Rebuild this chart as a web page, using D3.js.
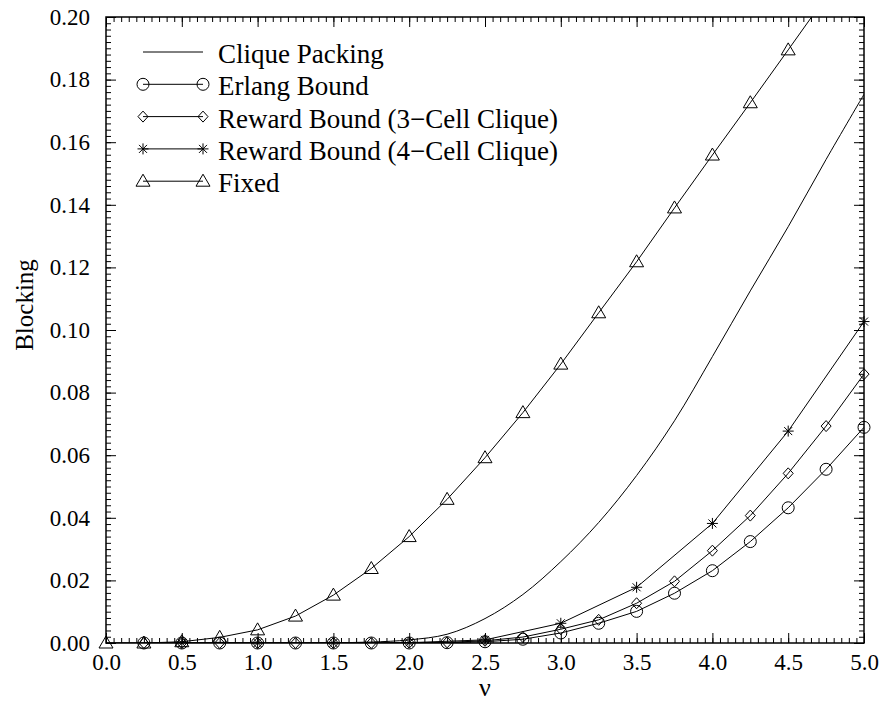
<!DOCTYPE html>
<html>
<head>
<meta charset="utf-8">
<script src="https://cdn.jsdelivr.net/npm/d3@7"></script>
<style>
  body { margin: 0; background: #fff; }
  text { font-family: "Liberation Serif", "Times New Roman", serif; fill: #000; }
</style>
</head>
<body>
<div id="root"></div>
<script>
// nu values, every 0.25 from 0 to 5
var nu = [0, 0.25, 0.5, 0.75, 1.0, 1.25, 1.5, 1.75, 2.0, 2.25, 2.5,
    2.75, 3.0, 3.25, 3.5, 3.75, 4.0, 4.25, 4.5, 4.75, 5.0];
var nuHalf = [0.5, 1.0, 1.5, 2.0, 2.5, 3.0, 3.5, 4.0, 4.5, 5.0];

var cliquePacking = [0, 0, 0, 0, 0, 0, 0.0001, 0.0003, 0.001, 0.0028, 0.0078,
    0.0155, 0.026, 0.0385, 0.0535, 0.071, 0.0915, 0.1125, 0.133, 0.1545, 0.1753];
var erlangBound = [null, 0, 0, 0, 0, 0, 0, 0, 0, 0.0001, 0.0004,
    0.0012, 0.0032, 0.0063, 0.0101, 0.0159, 0.0231, 0.0324, 0.0432, 0.0555, 0.0689];
var reward3 = [null, 0, 0, 0, 0, 0, 0, 0, 0.0001, 0.0002, 0.0007,
    0.0019, 0.0044, 0.0074, 0.0127, 0.0197, 0.0295, 0.0407, 0.0542, 0.0693, 0.0859];
var reward4 = [0, 0, 0, 0.0001, 0.001, 0.0063, 0.0178, 0.0382, 0.0677, 0.1027];
var fixed = [0, 0, 0.0004, 0.0018, 0.0042, 0.0086, 0.0153, 0.0238, 0.034, 0.0459, 0.0592,
    0.0736, 0.0891, 0.1055, 0.1218, 0.139, 0.1559, 0.1726, 0.1895, 0.2065, 0.224];

var legendNames = ["Clique Packing", "Erlang Bound", "Reward Bound (3\u2212Cell Clique)",
    "Reward Bound (4\u2212Cell Clique)", "Fixed"];
var legendSymbols = ["none", "circle", "diamond", "star", "triangle"];

var xTicks = [0, 0.5, 1, 1.5, 2, 2.5, 3, 3.5, 4, 4.5, 5];
var yTicks = [0, 0.02, 0.04, 0.06, 0.08, 0.10, 0.12, 0.14, 0.16, 0.18, 0.20];

var W = 881, H = 701;
var mLeft = 106, mRight = 864, mTop = 17, mBottom = 643;

var svg = d3.select("#root")
    .append("svg")
    .attr("width", W)
    .attr("height", H);

var x = d3.scaleLinear().domain([0, 5]).range([mLeft, mRight]);
var y = d3.scaleLinear().domain([0, 0.2]).range([mBottom, mTop]);

var xMinor = d3.range(0, 5.0001, 0.05).map(function (d) { return +d.toFixed(2); });
var yMinor = d3.range(0, 0.2001, 0.002).map(function (d) { return +d.toFixed(3); });

// minor ticks on all four sides (pointing inward)
svg.append("g").attr("transform", "translate(0," + mBottom + ")")
    .call(d3.axisBottom(x).tickValues(xMinor).tickSize(-5).tickFormat(""));
svg.append("g").attr("transform", "translate(0," + mTop + ")")
    .call(d3.axisTop(x).tickValues(xMinor).tickSize(-5).tickFormat(""));
svg.append("g").attr("transform", "translate(" + mLeft + ",0)")
    .call(d3.axisLeft(y).tickValues(yMinor).tickSize(-5).tickFormat(""));
svg.append("g").attr("transform", "translate(" + mRight + ",0)")
    .call(d3.axisRight(y).tickValues(yMinor).tickSize(-5).tickFormat(""));

// major ticks + labels
svg.append("g").attr("class", "xaxis").attr("transform", "translate(0," + mBottom + ")")
    .call(d3.axisBottom(x).tickValues(xTicks).tickSize(-10).tickPadding(11).tickFormat(d3.format(".1f")));
svg.append("g").attr("transform", "translate(0," + mTop + ")")
    .call(d3.axisTop(x).tickValues(xTicks).tickSize(-10).tickFormat(""));
svg.append("g").attr("class", "yaxis").attr("transform", "translate(" + mLeft + ",0)")
    .call(d3.axisLeft(y).tickValues(yTicks).tickSize(-10).tickPadding(16).tickFormat(d3.format(".2f")));
svg.append("g").attr("transform", "translate(" + mRight + ",0)")
    .call(d3.axisRight(y).tickValues(yTicks).tickSize(-10).tickFormat(""));

svg.selectAll(".domain").remove();
svg.selectAll(".tick line").attr("stroke", "#000").attr("stroke-width", 1);
svg.selectAll(".xaxis text, .yaxis text")
    .style("font-family", "'Liberation Serif', 'Times New Roman', serif")
    .style("font-size", "23px")
    .attr("fill", "#000");

// frame
svg.append("rect")
    .attr("x", mLeft).attr("y", mTop)
    .attr("width", mRight - mLeft).attr("height", mBottom - mTop)
    .attr("fill", "none").attr("stroke", "#000").attr("stroke-width", 1.5);

// axis titles
svg.append("text")
    .attr("transform", "translate(33,305) rotate(-90)")
    .attr("text-anchor", "middle")
    .style("font-size", "25px")
    .text("Blocking");
svg.append("text")
    .attr("x", x(2.5)).attr("y", 696)
    .attr("text-anchor", "middle")
    .style("font-size", "26px")
    .text("\u03bd");

// clip
svg.append("clipPath").attr("id", "plotclip")
    .append("rect").attr("x", mLeft).attr("y", mTop)
    .attr("width", mRight - mLeft).attr("height", mBottom - mTop);

var plot = svg.append("g").attr("clip-path", "url(#plotclip)");

function toPts(xs, ys) {
    var out = [];
    for (var i = 0; i < xs.length; i++) {
        if (ys[i] !== null) out.push([xs[i], ys[i]]);
    }
    return out;
}

var series = [
    { pts: toPts(nu, cliquePacking), sym: "none", curve: d3.curveCatmullRom.alpha(0.5) },
    { pts: toPts(nu, erlangBound), sym: "circle", curve: d3.curveLinear },
    { pts: toPts(nu, reward3), sym: "diamond", curve: d3.curveLinear },
    { pts: toPts(nuHalf, reward4), sym: "star", curve: d3.curveLinear },
    { pts: toPts(nu, fixed), sym: "triangle", curve: d3.curveLinear }
];

function drawSymbol(g, sym, cx, cy) {
    if (sym === "circle") {
        g.append("circle").attr("cx", cx).attr("cy", cy).attr("r", 6)
            .attr("fill", "none").attr("stroke", "#000").attr("stroke-width", 1);
    } else if (sym === "diamond") {
        g.append("path")
            .attr("d", "M" + cx + "," + (cy - 5.5) + "L" + (cx + 5) + "," + cy + "L" + cx + "," + (cy + 5.5) + "L" + (cx - 5) + "," + cy + "Z")
            .attr("fill", "none").attr("stroke", "#000").attr("stroke-width", 1);
    } else if (sym === "triangle") {
        g.append("path")
            .attr("d", "M" + cx + "," + (cy - 7) + "L" + (cx + 7) + "," + (cy + 5) + "L" + (cx - 7) + "," + (cy + 5) + "Z")
            .attr("fill", "none").attr("stroke", "#000").attr("stroke-width", 1);
    } else if (sym === "star") {
        var r = 5.5, d = 4;
        g.append("path")
            .attr("d", "M" + (cx - r) + "," + cy + "L" + (cx + r) + "," + cy +
                "M" + cx + "," + (cy - r) + "L" + cx + "," + (cy + r) +
                "M" + (cx - d) + "," + (cy - d) + "L" + (cx + d) + "," + (cy + d) +
                "M" + (cx - d) + "," + (cy + d) + "L" + (cx + d) + "," + (cy - d))
            .attr("fill", "none").attr("stroke", "#000").attr("stroke-width", 1);
    }
}

series.forEach(function (s) {
    var line = d3.line()
        .x(function (d) { return x(d[0]); })
        .y(function (d) { return y(d[1]); })
        .curve(s.curve);
    plot.append("path")
        .datum(s.pts)
        .attr("d", line)
        .attr("fill", "none")
        .attr("stroke", "#000")
        .attr("stroke-width", 1);
});

// markers drawn after lines; skip ones above the frame
var markG = svg.append("g");
series.forEach(function (s) {
    if (s.sym === "none") return;
    s.pts.forEach(function (p) {
        if (p[1] > 0.2) return;
        drawSymbol(markG, s.sym, x(p[0]), y(p[1]));
    });
});

// legend
var leg = svg.append("g");
legendNames.forEach(function (name, i) {
    var ly = 52 + i * 32.3;
    leg.append("line")
        .attr("x1", 143).attr("x2", 203)
        .attr("y1", ly).attr("y2", ly)
        .attr("stroke", "#000").attr("stroke-width", 1);
    if (legendSymbols[i] !== "none") {
        drawSymbol(leg, legendSymbols[i], 143, ly);
        drawSymbol(leg, legendSymbols[i], 203, ly);
    }
    leg.append("text")
        .attr("x", 218).attr("y", ly + 11)
        .style("font-size", "27px")
        .text(name);
});
</script>
</body>
</html>
